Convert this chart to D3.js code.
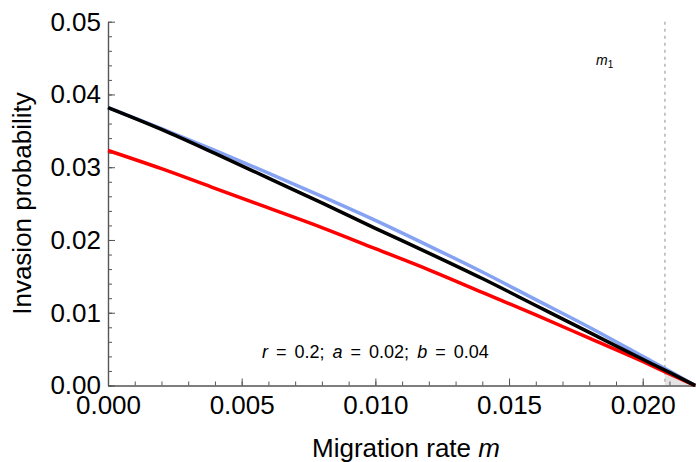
<!DOCTYPE html>
<html>
<head>
<meta charset="utf-8">
<script src="https://cdn.jsdelivr.net/npm/d3@7"></script>
<style>
	body { margin: 0; background: #fff; }
	svg { display: block; font-family: "Liberation Sans", Arial, sans-serif; }
	.axis path, .axis line { stroke: #555; }
	.axis text { fill: #000; font-size: 26px; font-family: "Liberation Sans", Arial, sans-serif; }
</style>
</head>
<body>
<script>
//migration rate values where the curves were read
var migration = [0, 0.002, 0.004, 0.006, 0.008, 0.010, 0.012, 0.014, 0.016, 0.018, 0.020, 0.021, 0.02196];

//invasion probability, three curves
var blueSeries  = [0.0382, 0.0353, 0.0323, 0.0292, 0.0260, 0.0227, 0.0192, 0.0156, 0.0118, 0.0080, 0.0040, 0.0020, 0];
var blackSeries = [0.0382, 0.0352, 0.0319, 0.0285, 0.0251, 0.0216, 0.0182, 0.0147, 0.0110, 0.0073, 0.0036, 0.0018, 0];
var redSeries   = [0.0323, 0.0298, 0.0271, 0.0244, 0.0217, 0.0188, 0.0159, 0.0128, 0.0097, 0.0065, 0.0033, 0.0016, 0];

//threshold m1
var m1 = 0.02083;

var xTicks = [0, 0.005, 0.010, 0.015, 0.020];
var yTicks = [0, 0.01, 0.02, 0.03, 0.04, 0.05];

window.onload = setChart();

function setChart(){

	var width = 696,
		height = 462;

	var svg = d3.select("body")
		.append("svg")
		.attr("width", width)
		.attr("height", height);

	var x = d3.scaleLinear()
		.domain([0, 0.022])
		.range([108, 696.2]);

	var y = d3.scaleLinear()
		.domain([0, 0.05])
		.range([385.5, 21.7]);

	//shaded region right of m1, under the lowest curve
	svg.append("clipPath")
		.attr("id", "rightClip")
		.append("rect")
		.attr("x", x(m1))
		.attr("y", y(0.05))
		.attr("width", x(0.022) - x(m1))
		.attr("height", y(0) - y(0.05));

	var area = d3.area()
		.x(function(d){ return x(d[0]); })
		.y0(y(0))
		.y1(function(d){ return y(d[1]); })
		.curve(d3.curveMonotoneX);

	svg.append("path")
		.datum(d3.zip(migration, redSeries))
		.attr("clip-path", "url(#rightClip)")
		.attr("fill", "#e4e4e4")
		.attr("d", area);

	//dashed m1 line
	svg.append("line")
		.attr("x1", x(m1))
		.attr("x2", x(m1))
		.attr("y1", y(0.05))
		.attr("y2", y(0))
		.attr("stroke", "#b4b4b4")
		.attr("stroke-width", 1.5)
		.attr("stroke-dasharray", "3,4");

	//minor ticks
	svg.append("g")
		.attr("class", "axis")
		.attr("transform", "translate(0," + y(0) + ")")
		.call(d3.axisBottom(x).tickValues(d3.range(0, 0.0225, 0.001)).tickSize(-4).tickSizeOuter(0).tickFormat(""));

	svg.append("g")
		.attr("class", "axis")
		.attr("transform", "translate(" + x(0) + ",0)")
		.call(d3.axisLeft(y).tickValues(d3.range(0, 0.0501, 0.002)).tickSize(-4).tickSizeOuter(0).tickFormat(""));

	//major ticks and labels
	svg.append("g")
		.attr("class", "axis")
		.attr("transform", "translate(0," + y(0) + ")")
		.call(d3.axisBottom(x).tickValues(xTicks).tickSize(-7).tickSizeOuter(0).tickPadding(10).tickFormat(d3.format(".3f")));

	svg.append("g")
		.attr("class", "axis")
		.attr("transform", "translate(" + x(0) + ",0)")
		.call(d3.axisLeft(y).tickValues(yTicks).tickSize(-7).tickSizeOuter(0).tickPadding(7).tickFormat(d3.format(".2f")));

	svg.selectAll(".axis .domain").attr("stroke-width", 1.2);

	//curves
	var line = d3.line()
		.x(function(d){ return x(d[0]); })
		.y(function(d){ return y(d[1]); })
		.curve(d3.curveMonotoneX);

	var series = [
		{values: blueSeries, color: "#86a3f3"},
		{values: redSeries, color: "#ff0000"},
		{values: blackSeries, color: "#000000"}
	];

	svg.selectAll(".curve")
		.data(series)
		.enter()
		.append("path")
		.attr("class", "curve")
		.attr("fill", "none")
		.attr("stroke", function(d){ return d.color; })
		.attr("stroke-width", 3.5)
		.attr("d", function(d){ return line(d3.zip(migration, d.values)); });

	//axis labels
	svg.append("text")
		.attr("transform", "translate(30.5,203.5) rotate(-90)")
		.attr("text-anchor", "middle")
		.attr("font-size", 26)
		.text("Invasion probability");

	var xLabel = svg.append("text")
		.attr("x", 406)
		.attr("y", 456.5)
		.attr("text-anchor", "middle")
		.attr("font-size", 26);
	xLabel.append("tspan").text("Migration rate ");
	xLabel.append("tspan").attr("font-style", "italic").text("m");

	//parameter note
	var note = svg.append("text")
		.attr("x", 262)
		.attr("y", 357.5)
		.attr("font-size", 18)
		.attr("word-spacing", 3)
		.attr("xml:space", "preserve");
	note.append("tspan").attr("font-style", "italic").text("r");
	note.append("tspan").text(" = 0.2; ");
	note.append("tspan").attr("font-style", "italic").text("a");
	note.append("tspan").text(" = 0.02; ");
	note.append("tspan").attr("font-style", "italic").text("b");
	note.append("tspan").text(" = 0.04");

	//m1 label
	var mLabel = svg.append("text")
		.attr("x", 596)
		.attr("y", 65)
		.attr("font-size", 14);
	mLabel.append("tspan").attr("font-style", "italic").text("m");
	mLabel.append("tspan").attr("font-size", 10).attr("dy", 3).text("1");
};
</script>
</body>
</html>
